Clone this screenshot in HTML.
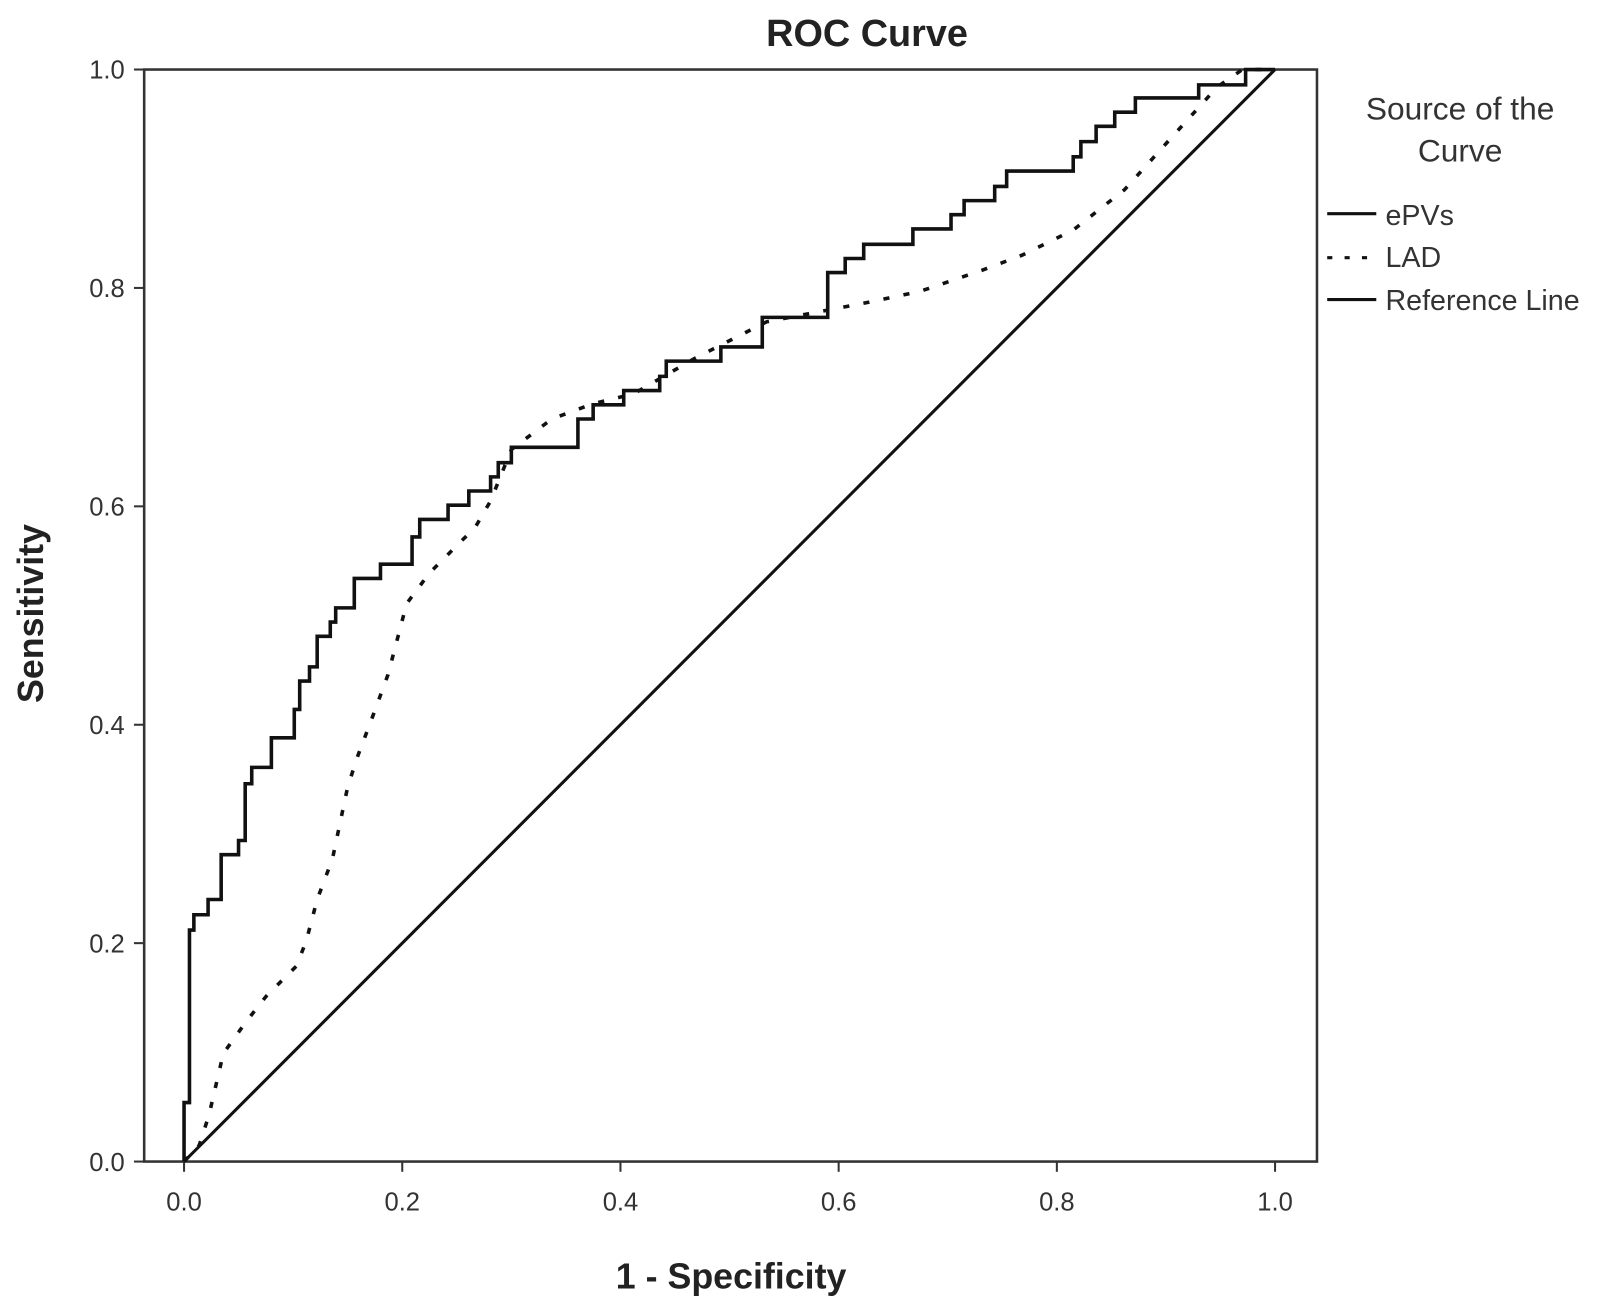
<!DOCTYPE html>
<html><head><meta charset="utf-8"><style>
html,body{margin:0;padding:0;background:#fff;}
svg{display:block;font-family:"Liberation Sans",Arial,sans-serif;}
</style></head><body>
<svg id="chart" width="1600" height="1305" viewBox="0 0 1600 1305">
<rect x="0" y="0" width="1600" height="1305" fill="#fff"/>
<g transform="scale(1.0225)">
<text x="848" y="45" text-anchor="middle" font-size="37" font-weight="bold" fill="#222">ROC Curve</text>
<rect x="141" y="68" width="1147" height="1068" fill="none" stroke="#333" stroke-width="2.5"/>
<g id="xticks"></g>
<g id="yticks"></g>
<g id="series"></g>
<text x="715" y="1260" text-anchor="middle" font-size="35" font-weight="bold" fill="#222">1 - Specificity</text>
<text transform="translate(42,600) rotate(-90)" text-anchor="middle" font-size="35" font-weight="bold" fill="#222">Sensitivity</text>
<g font-size="31" fill="#333">
<text x="1428" y="117" text-anchor="middle">Source of the</text>
<text x="1428" y="158" text-anchor="middle">Curve</text>
<g><line x1="1298" y1="209" x2="1346" y2="209" stroke="#111" stroke-width="3"/><text x="1355" y="220" font-size="28">ePVs</text></g>
<g><line x1="1298" y1="252" x2="1346" y2="252" stroke="#111" stroke-width="3" stroke-dasharray="5,12"/><text x="1355" y="261" font-size="28">LAD</text></g>
<g><line x1="1298" y1="293" x2="1346" y2="293" stroke="#111" stroke-width="3"/><text x="1355" y="303" font-size="28">Reference Line</text></g>
</g>
</g>
</svg>
<script>
const xTicks = [0.0, 0.2, 0.4, 0.6, 0.8, 1.0];
const yTicks = [0.0, 0.2, 0.4, 0.6, 0.8, 1.0];
const epvsFpr = [0,.005,.009,.022,.034,.050,.056,.062,.080,.101,.106,.115,.122,.134,.139,.156,.180,.209,.216,.242,.261,.281,.288,.300,.361,.375,.403,.436,.442,.492,.530,.590,.606,.623,.668,.703,.715,.743,.754,.815,.822,.836,.853,.872,.930,.973];
const epvsTpr = [.054,.212,.226,.240,.281,.294,.346,.361,.388,.414,.440,.453,.481,.494,.507,.534,.547,.572,.588,.601,.614,.627,.640,.654,.680,.693,.706,.719,.733,.746,.773,.814,.827,.840,.854,.867,.880,.893,.907,.920,.934,.948,.961,.974,.986,1];
const ladFpr = [0,.014,.023,.036,.056,.075,.103,.112,.122,.136,.150,.159,.173,.187,.204,.225,.244,.267,.281,.300,.337,.375,.412,.469,.534,.581,.628,.675,.731,.768,.815,.862,.909,.947,.970,1];
const ladTpr = [0,.015,.043,.099,.127,.151,.179,.202,.240,.277,.343,.371,.408,.446,.511,.539,.558,.581,.605,.652,.680,.694,.703,.736,.769,.778,.787,.797,.816,.830,.853,.890,.942,.984,1,1];
const refFpr = [0, 1];
const refTpr = [0, 1];

const NS = 'http://www.w3.org/2000/svg';
const sx = v => 180 + v * 1067;
const sy = v => 1136 - v * 1068;
function mk(tag, attrs, parent) {
  const e = document.createElementNS(NS, tag);
  for (const k in attrs) e.setAttribute(k, attrs[k]);
  parent.appendChild(e);
  return e;
}
const xg = document.getElementById('xticks');
xTicks.forEach(t => {
  const l = mk('line', {x1: sx(t), x2: sx(t), y1: 1136, y2: 1146, stroke: '#333', 'stroke-width': 2}, xg);
  
  
  const tx = mk('text', {x: sx(t), y: 1184, 'text-anchor': 'middle', 'font-size': 25, fill: '#333'}, xg);
  tx.textContent = t.toFixed(1);
  
  
});
const yg = document.getElementById('yticks');
yTicks.forEach(t => {
  const l = mk('line', {x1: 131, x2: 141, y1: sy(t), y2: sy(t), stroke: '#333', 'stroke-width': 2}, yg);
  
  
  const tx = mk('text', {x: 122, y: sy(t) + 9, 'text-anchor': 'end', 'font-size': 25, fill: '#333'}, yg);
  tx.textContent = t.toFixed(1);
  
  
});
const sg = document.getElementById('series');
const ref = mk('line', {x1: sx(refFpr[0]), y1: sy(refTpr[0]), x2: sx(refFpr[1]), y2: sy(refTpr[1]), stroke: '#111', 'stroke-width': 3}, sg);


let d = '';
ladFpr.forEach((x, i) => { d += (i ? 'L' : 'M') + sx(x).toFixed(1) + ' ' + sy(ladTpr[i]).toFixed(1); });
const lad = mk('path', {d: d, fill: 'none', stroke: '#111', 'stroke-width': 3.5, 'stroke-dasharray': '6,14'}, sg);


let d2 = 'M' + sx(0) + ' ' + sy(0);
let prevY = 0;
epvsFpr.forEach((x, i) => {
  d2 += 'L' + sx(x).toFixed(1) + ' ' + sy(prevY).toFixed(1);
  d2 += 'L' + sx(x).toFixed(1) + ' ' + sy(epvsTpr[i]).toFixed(1);
  prevY = epvsTpr[i];
});
d2 += 'L' + sx(1) + ' ' + sy(prevY).toFixed(1);
const ep = mk('path', {d: d2, fill: 'none', stroke: '#111', 'stroke-width': 3.5}, sg);


</script>
</body></html>
